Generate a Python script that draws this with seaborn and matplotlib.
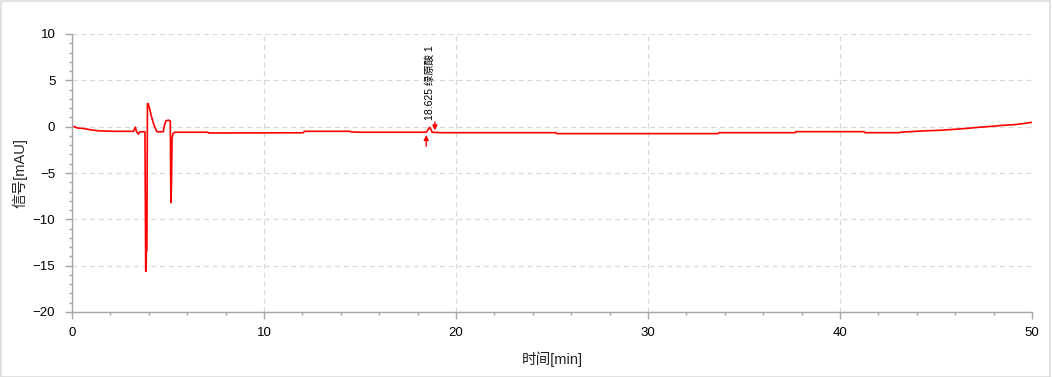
import matplotlib
matplotlib.use("Agg")
import matplotlib.pyplot as plt
import seaborn as sns
import pandas as pd
from matplotlib.ticker import MultipleLocator
from matplotlib.patches import Rectangle

# ---- data ----
time_min = [0.0, 0.1, 0.3, 0.6, 1.0, 1.4, 2.2, 3.2, 3.3, 3.35, 3.45, 3.55, 3.8,
            3.84, 3.86, 3.87, 3.9, 3.93, 3.97, 4.06, 4.14, 4.22, 4.32, 4.43,
            4.75, 4.82, 4.9, 5.05, 5.12, 5.15, 5.18, 5.21, 5.26, 5.35,
            7.08, 7.1, 12.05, 12.1, 14.5, 14.55, 15.0, 18.45, 18.55, 18.625,
            18.7, 18.75, 19.2, 25.2, 25.25, 33.65, 33.7, 37.66, 37.7, 41.25,
            41.3, 43.1, 43.15, 44.3, 45.2, 46.0, 46.7, 47.2, 48.1, 48.5, 49.1,
            49.5, 50.0]
signal_mau = [0.05, 0.0, -0.15, -0.2, -0.35, -0.45, -0.5, -0.5, -0.05, -0.5, -0.8, -0.55, -0.55,
              -15.6, -15.6, -13.4, -13.4, 2.5, 2.45, 1.8, 1.1, 0.5, -0.1, -0.55,
              -0.55, 0.2, 0.65, 0.7, 0.6, -8.2, -6.3, -1.3, -0.75, -0.6,
              -0.6, -0.68, -0.66, -0.5, -0.5, -0.57, -0.6, -0.6, -0.3, -0.08,
              -0.3, -0.6, -0.65, -0.65, -0.75, -0.75, -0.65, -0.65, -0.54, -0.54,
              -0.65, -0.65, -0.6, -0.46, -0.39, -0.28, -0.17, -0.07, 0.07, 0.15, 0.22,
              0.32, 0.47]

peak_time = 18.625
peak_label = "18.625 绿原酸 1"
peak_start = 18.45
peak_end = 18.9

x_label = "时间[min]"
y_label = "信号[mAU]"

df = pd.DataFrame({"t": time_min, "s": signal_mau})

sns.set_theme(style="white")
plt.rcParams["font.family"] = ["Liberation Sans", "Noto Sans CJK SC", "DejaVu Sans"]

fig = plt.figure(figsize=(10.52, 3.77), dpi=100)
ax = fig.add_axes([72 / 1052, 65 / 377, 960 / 1052, 278 / 377])

sns.lineplot(data=df, x="t", y="s", ax=ax, color="#ff0000", lw=1.2,
             sort=False, estimator=None)

ax.set_xlim(0, 50)
ax.set_ylim(-20, 10)
ax.xaxis.set_major_locator(MultipleLocator(10))
ax.xaxis.set_minor_locator(MultipleLocator(2))
ax.yaxis.set_major_locator(MultipleLocator(5))
ax.yaxis.set_minor_locator(MultipleLocator(1))

ax.grid(True, which="major", color="#d9d9d9", linestyle=(0, (4, 3)), lw=0.9)
ax.set_axisbelow(True)

for side in ["top", "right"]:
    ax.spines[side].set_visible(False)
for side in ["left", "bottom"]:
    ax.spines[side].set_color("#a6a6a6")
    ax.spines[side].set_linewidth(1.0)

ax.tick_params(which="major", direction="out", length=5, width=1, color="#a6a6a6",
               labelsize=9.5, labelcolor="black", left=True, bottom=True)
ax.tick_params(axis="y", which="major", pad=7)
ax.tick_params(axis="x", which="major", pad=6)
ax.tick_params(which="minor", direction="out", length=2.5, width=1, color="#a6a6a6",
               left=True, bottom=True)

ax.set_xlabel(x_label, fontsize=10.5, color="#222222")
ax.set_ylabel(y_label, fontsize=10.5, color="#222222")
ax.yaxis.set_label_coords(-44 / 960, 0.5)
ax.xaxis.set_label_coords(0.5, -39 / 278)
ax.xaxis.label.set_va("top")

# peak annotation
ax.text(peak_time, 0.75, peak_label, rotation=90, ha="center", va="bottom",
        fontsize=7.5, color="black")
ax.annotate("", xy=(peak_start, -0.9), xytext=(peak_start, -2.1),
            arrowprops=dict(arrowstyle="-|>", color="#ff0000", lw=1, mutation_scale=7,
                            shrinkA=0, shrinkB=0))
ax.annotate("", xy=(peak_end, -0.4), xytext=(peak_end, 0.5),
            arrowprops=dict(arrowstyle="-|>", color="#ff0000", lw=1, mutation_scale=7,
                            shrinkA=0, shrinkB=0))

# outer frame
fig.patches.append(Rectangle((0.0005, 0.001), 0.998, 0.997, transform=fig.transFigure,
                             fill=False, edgecolor="#dcdcdc", lw=1.2))

fig.savefig("out.png", dpi=100)
